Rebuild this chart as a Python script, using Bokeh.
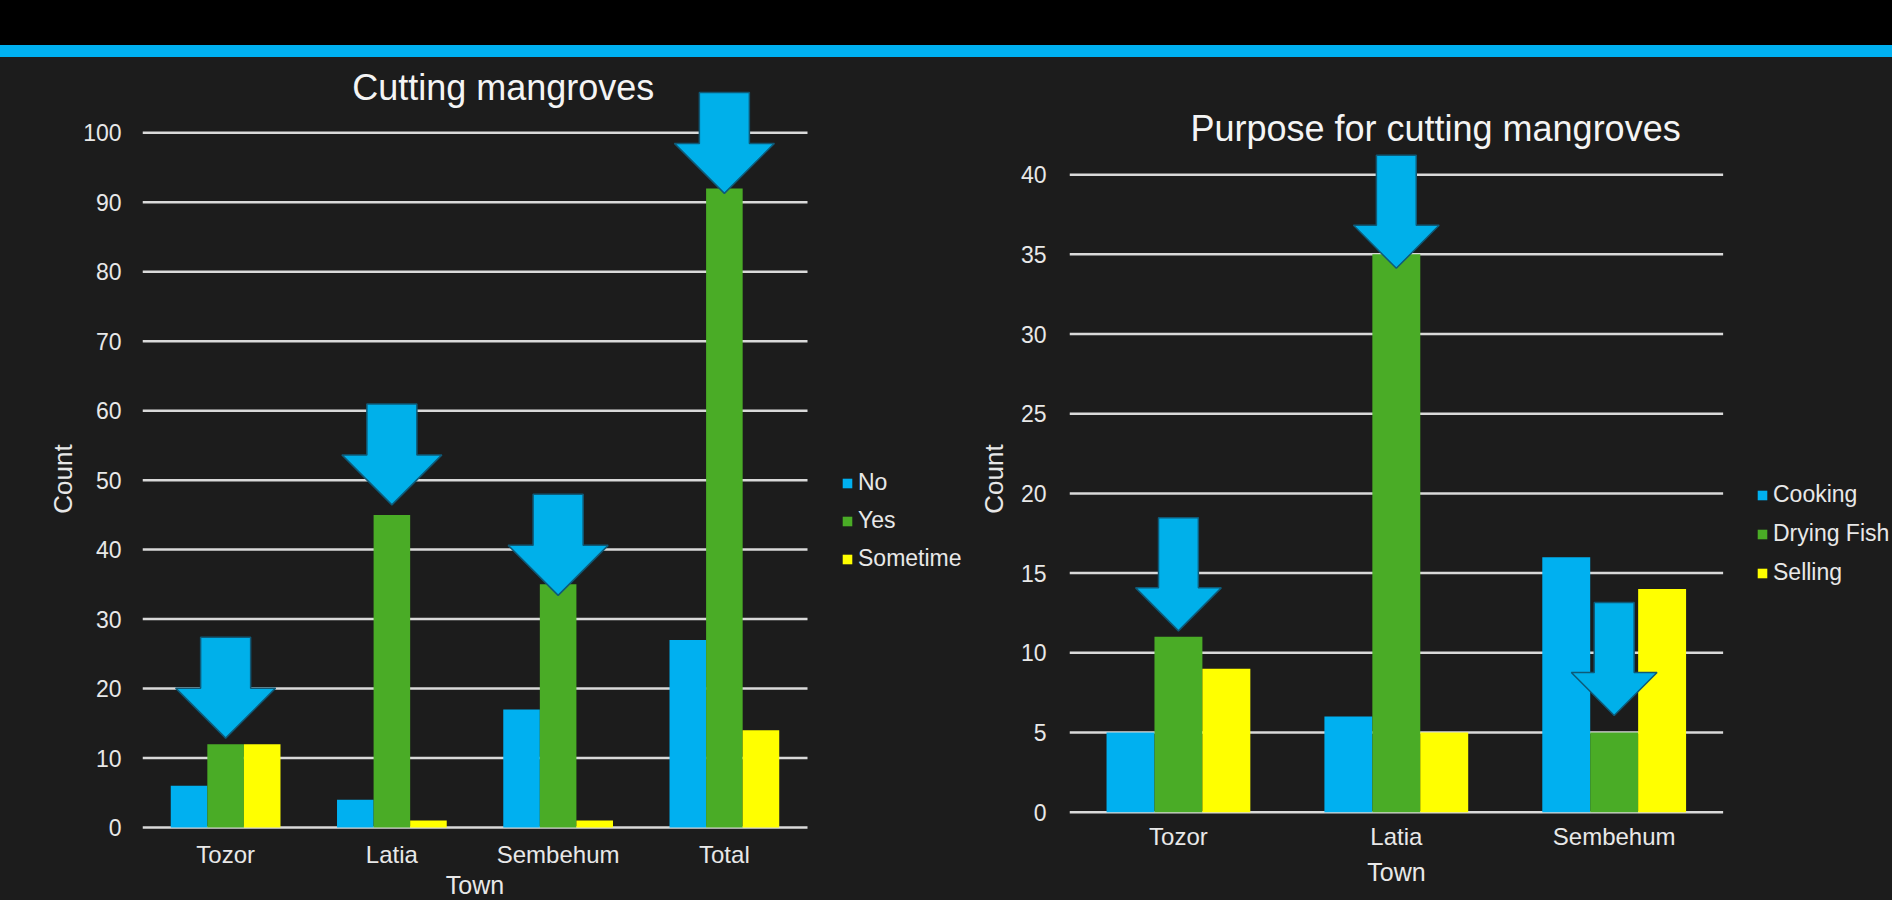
from bokeh.plotting import figure
from bokeh.models import Legend, LegendItem, Label, FixedTicker, Div, Range1d
from bokeh.layouts import column, row
from bokeh.embed import file_html
from bokeh.resources import INLINE

# ---------------- data ----------------
towns_1 = ["Tozor", "Latia", "Sembehum", "Total"]
no_1 = [6, 4, 17, 27]
yes_1 = [12, 45, 35, 92]
sometime_1 = [12, 1, 1, 14]
ticks_1 = [0, 10, 20, 30, 40, 50, 60, 70, 80, 90, 100]

towns_2 = ["Tozor", "Latia", "Sembehum"]
cooking_2 = [5, 6, 16]
drying_fish_2 = [11, 35, 5]
selling_2 = [9, 5, 14]
ticks_2 = [0, 5, 10, 15, 20, 25, 30, 35, 40]

# arrows point at the middle series bar of these towns
arrow_towns_1 = ["Tozor", "Latia", "Sembehum", "Total"]
arrow_towns_2 = ["Tozor", "Latia", "Sembehum"]

# ---------------- style ----------------
BG = "#1c1c1c"
BLUE = "#00b0f0"
GREEN = "#4aac26"
YELLOW = "#ffff00"
TXT = "#e8e8e8"
GRID = "#d9d9d9"
FONT = "Liberation Sans"
ARROW_FILL = "#00b0ea"
ARROW_LINE = "#0e5a78"
# pixel gap between arrow tip and bar top (positive: tip above the bar)
ARROW_GAP_1 = [6, 10, -11, -5]
ARROW_GAP_2 = [6, -14, 17]


def make_chart(towns, series, names, ticks, title, x_end, y_start, y_end,
               width, height, mb_left,
               x_standoff, xlab_standoff, y_standoff, ylab_standoff,
               title_x, title_y, legend_loc, legend_spacing,
               arrow_towns, arrow_dims, arrow_gaps):
    p = figure(x_range=Range1d(0, x_end), y_range=Range1d(y_start, y_end),
               width=width, height=height,
               output_backend="svg", toolbar_location=None,
               min_border_left=mb_left, min_border_right=0,
               min_border_top=0, min_border_bottom=0)
    p.frame_align = False
    p.background_fill_alpha = 0
    p.border_fill_color = BG
    p.outline_line_color = None

    n = len(towns)
    centers = [i + 0.5 for i in range(n)]

    # horizontal grid lines across the category area only
    p.segment(x0=[0] * len(ticks), x1=[n] * len(ticks), y0=ticks, y1=ticks,
              line_color=GRID, line_width=2.5)

    bw = 0.22
    colors = [BLUE, GREEN, YELLOW]
    offsets = [-bw, 0.0, bw]
    renderers = []
    for s, c, o in zip(series, colors, offsets):
        r = p.vbar(x=[cx + o for cx in centers], top=s, bottom=0, width=bw,
                   fill_color=c, line_color=None)
        renderers.append(r)

    # block arrows pointing down at the middle-series bars
    frame_w = width - mb_left
    ppc = frame_w / x_end
    ppu = height / (y_end - y_start)
    total_px, shaft_px, head_w_px, head_h_px = arrow_dims
    xs, ys = [], []
    mid = series[1]
    for t, gap in zip(arrow_towns, arrow_gaps):
        i = towns.index(t)
        tip = mid[i] + gap / ppu
        cx = centers[i]
        sw = shaft_px / 2 / ppc
        hw = head_w_px / 2 / ppc
        yh = tip + head_h_px / ppu
        yt = tip + total_px / ppu
        xs.append([cx, cx - hw, cx - sw, cx - sw, cx + sw, cx + sw, cx + hw])
        ys.append([tip, yh, yh, yt, yt, yh, yh])
    p.patches(xs=xs, ys=ys, fill_color=ARROW_FILL, line_color=ARROW_LINE, line_width=1.5)

    # axes
    p.xgrid.visible = False
    p.ygrid.visible = False
    p.xaxis.fixed_location = 0
    p.xaxis.ticker = FixedTicker(ticks=centers)
    p.xaxis.major_label_overrides = {c: t for c, t in zip(centers, towns)}
    p.xaxis.bounds = (0, n)
    p.yaxis.ticker = FixedTicker(ticks=ticks)
    for ax in (p.xaxis[0], p.yaxis[0]):
        ax.axis_line_color = None
        ax.major_tick_line_color = None
        ax.minor_tick_line_color = None
        ax.major_tick_out = 0
        ax.major_tick_in = 0
        ax.minor_tick_out = 0
        ax.minor_tick_in = 0
        ax.major_label_text_color = TXT
        ax.major_label_text_font = FONT
        ax.axis_label_text_font = FONT
        ax.axis_label_text_font_style = "normal"
        ax.axis_label_text_color = TXT
    p.xaxis.major_label_text_font_size = "24px"
    p.xaxis.major_label_standoff = x_standoff
    p.xaxis.axis_label = "Town"
    p.xaxis.axis_label_text_font_size = "25px"
    p.xaxis.axis_label_standoff = xlab_standoff
    p.yaxis.major_label_text_font_size = "23px"
    p.yaxis.major_label_standoff = y_standoff
    p.yaxis.axis_label = "Count"
    p.yaxis.axis_label_text_font_size = "26px"
    p.yaxis.axis_label_standoff = ylab_standoff

    # chart title
    p.add_layout(Label(x=title_x, y=title_y, text=title, text_align="center",
                       text_baseline="middle", text_font=FONT,
                       text_font_size="36px", text_color="#f4f4f4"))

    legend = Legend(items=[LegendItem(label=nm, renderers=[r]) for nm, r in zip(names, renderers)],
                    location=legend_loc, orientation="vertical", padding=0, margin=0,
                    spacing=legend_spacing, glyph_width=12, glyph_height=12, label_standoff=5,
                    label_text_font=FONT, label_text_font_size="23px",
                    label_text_color=TXT, background_fill_alpha=0, border_line_alpha=0)
    p.add_layout(legend)
    return p


p1 = make_chart(towns_1, [no_1, yes_1, sometime_1], ["No", "Yes", "Sometime"], ticks_1,
                "Cutting mangroves", 5.0105, -10.508, 110.84,
                width=975, height=843, mb_left=142,
                x_standoff=13, xlab_standoff=0, y_standoff=21, ylab_standoff=2,
                title_x=2.17, title_y=106.5, legend_loc=(699, 328), legend_spacing=11,
                arrow_towns=arrow_towns_1, arrow_dims=(101, 50, 100, 50),
                arrow_gaps=ARROW_GAP_1)

p2 = make_chart(towns_2, [cooking_2, drying_fish_2, selling_2], ["Cooking", "Drying Fish", "Selling"],
                ticks_2, "Purpose for cutting mangroves", 3.7774, -5.54, 47.35,
                width=917, height=843, mb_left=91,
                x_standoff=11, xlab_standoff=4, y_standoff=23, ylab_standoff=9,
                title_x=1.68, title_y=42.9, legend_loc=(687, 314), legend_spacing=12,
                arrow_towns=arrow_towns_2, arrow_dims=(113, 40, 86, 43),
                arrow_gaps=ARROW_GAP_2)

header = Div(text="", width=1892, height=57, margin=0,
             styles={"background": "linear-gradient(#000000 0px, #000000 45px, #00b0f0 45px, #00b0f0 57px)"})

layout = column(header, row(p1, p2, spacing=0, styles={"background-color": BG}),
                spacing=0, styles={"background-color": BG})

open("out.html", "w").write(file_html(layout, INLINE))
